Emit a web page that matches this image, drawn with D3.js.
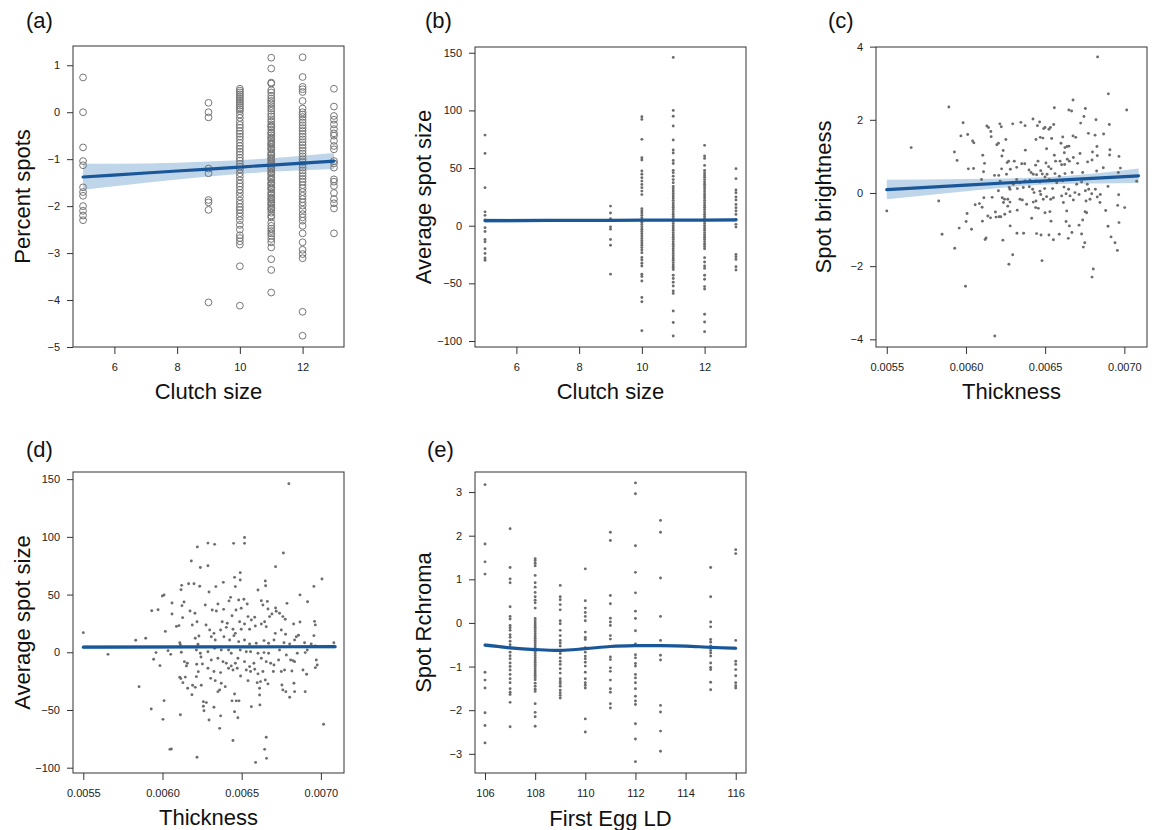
<!DOCTYPE html>
<html><head><meta charset="utf-8">
<script src="https://cdn.jsdelivr.net/npm/d3@7"></script>
<style>
body{margin:0;background:#fff}
text{font-family:"Liberation Sans",Arial,Helvetica,sans-serif}
</style>
</head><body>
<svg id="chart" width="1155" height="830"></svg>
<script>
// ---------------- DATA ----------------
// (a) Percent spots vs Clutch size
const aClutch = [5, 9, 10, 11, 12, 13];
const aSpots = [
  [0.74, 0, -0.75, -1.04, -1.13, -1.6, -1.7, -1.78, -2.0, -2.1, -2.2, -2.3],
  [0.2, 0, -0.11, -1.2, -1.3, -1.87, -1.92, -2.08, -4.05],
  [0.5, 0.46, 0.42, 0.38, 0.34, 0.3, 0.26, 0.22, 0.18, 0.14, 0.1, 0.06, 0.02, -0.05, -0.12, -0.2, -0.27, -0.33, -0.4, -0.46, -0.52, -0.58, -0.65, -0.72, -0.78, -0.84, -0.9, -0.97, -1.03, -1.1, -1.16, -1.22, -1.3, -1.37, -1.45, -1.52, -1.58, -1.65, -1.72, -1.8, -1.88, -1.95, -2.02, -2.08, -2.15, -2.22, -2.3, -2.4, -2.5, -2.62, -2.68, -2.75, -2.82, -3.28, -4.12],
  [1.16, 0.93, 0.63, 0.61, 0.47, 0.42, 0.35, 0.29, 0.24, 0.19, 0.13, 0.08, 0.03, -0.04, -0.09, -0.15, -0.2, -0.26, -0.3, -0.32, -0.37, -0.43, -0.45, -0.49, -0.54, -0.55, -0.6, -0.65, -0.68, -0.7, -0.75, -0.78, -0.8, -0.86, -0.9, -0.92, -0.97, -1.0, -1.02, -1.07, -1.1, -1.13, -1.18, -1.2, -1.23, -1.28, -1.3, -1.34, -1.39, -1.42, -1.44, -1.5, -1.52, -1.55, -1.6, -1.62, -1.65, -1.71, -1.74, -1.77, -1.82, -1.85, -1.87, -1.92, -1.95, -1.98, -2.03, -2.05, -2.08, -2.14, -2.2, -2.24, -2.35, -2.42, -2.48, -2.53, -2.58, -2.63, -2.7, -2.77, -2.88, -3.13, -3.36, -3.84],
  [1.17, 0.75, 0.54, 0.49, 0.43, 0.24, 0.08, 0.0, -0.05, -0.1, -0.16, -0.22, -0.28, -0.34, -0.4, -0.46, -0.52, -0.58, -0.64, -0.7, -0.76, -0.82, -0.88, -0.94, -1.0, -1.06, -1.12, -1.18, -1.24, -1.3, -1.36, -1.42, -1.48, -1.55, -1.62, -1.7, -1.78, -1.85, -1.92, -1.99, -2.08, -2.17, -2.24, -2.31, -2.42, -2.58, -2.77, -2.93, -3.02, -3.11, -4.25, -4.76],
  [0.5, 0.12, -0.08, -0.16, -0.26, -0.36, -0.45, -0.5, -0.61, -0.72, -0.79, -1.04, -1.09, -1.18, -1.43, -1.48, -1.57, -1.72, -1.85, -1.94, -2.05, -2.58]
];
const aFitClutch = [5, 7, 9, 11, 13];
const aFitMean = [-1.38, -1.295, -1.21, -1.125, -1.04];
const aFitLo = [-1.65, -1.5, -1.37, -1.27, -1.21];
const aFitHi = [-1.1, -1.09, -1.05, -0.98, -0.87];

// (b) Average spot size vs Clutch size
const bClutch = [5, 9, 10, 11, 12, 13];
const bSpotSize = [
  [78.6, 62.7, 33, 12, 9, 5, -1.7, -5, -12, -14, -20, -24, -28, -30],
  [17, 11, 6, -1, -3, -12, -17, -42],
  [94.5, 92.2, 74.9, 59, 57, 47.5, 44.6, 41.6, 38.7, 35.8, 33, 30, 27, 14.8, 12.8, 11, 9, 7, 5, 3, 1, -1, -3, -5, -7, -9, -11, -13, -15, -17, -19, -21, -23.5, -27.6, -29.8, -32.6, -35, -42, -44, -48, -62.3, -66, -91],
  [146, 100, 95, 86.5, 74.3, 65.6, 63, 56.5, 54, 48, 46, 43, 40, 37.3, 34, 32, 30, 28, 26, 24, 22, 20, 18, 16, 14, 12, 10, 8, 6, 4, 2, 0, -2, -4, -6, -8, -10, -12, -14, -16, -18, -20, -22, -24, -26, -28, -30, -32, -34, -36, -38, -43, -45.8, -49, -52.3, -56.6, -58.7, -74, -84, -95.7],
  [69.7, 60.4, 58.4, 52.3, 48, 46, 44, 42, 40, 38, 36, 34, 32, 30, 28, 26, 24, 22, 20, 18, 16, 14, 12, 10, 8, 6, 4, 2, 0, -2, -4, -6, -8, -10, -12, -14, -16, -18, -20, -27.7, -31.5, -35, -37, -43, -46.5, -52.8, -55, -76.8, -83.5, -91.9],
  [49.5, 40.8, 31, 28.6, 25, 22.3, 18.5, 15.6, 12.7, 9.8, 5.5, 1.2, -1.2, -24.9, -26.9, -29.2, -35.6, -38.4]
];
const bFitClutch = [5, 9, 11, 13];
const bFitMean = [4.4, 4.7, 4.85, 5.0];
const bFitLo = [2.6, 3.6, 4.0, 3.7];
const bFitHi = [6.2, 5.8, 5.7, 6.3];

// (c) Spot brightness vs Thickness  [thickness, brightness]
const cThickBright = [
  [0.005500,-0.49],[0.005654,1.24],[0.005828,-0.22],[0.005849,-1.13],[0.005892,2.35],[0.005929,-1.51],[0.005927,1.12],[0.005944,0.89],[0.005957,-0.96],[0.005968,1.56],
  [0.005982,1.92],[0.005997,-2.55],[0.006001,-0.78],[0.006007,-0.56],[0.006011,1.6],[0.006015,0.66],[0.006035,-0.99],[0.006042,1.42],[0.006050,1.37],[0.006048,0.67],
  [0.006058,-0.32],[0.006085,-0.29],[0.006098,0.37],[0.006102,-0.39],[0.006104,-0.77],[0.006106,1.03],[0.006117,0.81],[0.006111,0.58],[0.006113,-0.13],[0.006121,-1.27],
  [0.006127,-1.23],[0.006132,1.83],[0.006142,1.79],[0.006138,-0.63],[0.006155,-0.68],[0.006157,1.68],[0.006159,1.54],[0.006165,-0.12],[0.006180,0.48],[0.006182,-3.91],
  [0.006186,-0.52],[0.006190,-0.66],[0.006195,1.32],[0.006205,1.36],[0.006205,0.06],[0.006207,0.48],[0.006209,-0.65],[0.006214,1.89],[0.006220,-0.65],[0.006216,0.32],
  [0.006223,1.81],[0.006225,0.66],[0.006227,1.01],[0.006229,-0.13],[0.006233,-1.29],[0.006235,1.16],[0.006237,-0.26],[0.006243,-0.17],[0.006245,-0.58],[0.006252,1.46],
  [0.006256,0.51],[0.006260,0.83],[0.006269,0.87],[0.006271,-1.95],[0.006273,0.15],[0.006279,-0.9],[0.006280,0.65],[0.006264,-0.17],[0.006264,-0.36],
  [0.006831,3.72],[0.006899,2.71],[0.007015,2.27],[0.006676,2.54],[0.006558,2.33],[0.006650,2.27],[0.006667,2.24],[0.006754,2.31],[0.006745,2.09],[0.006821,2.0],
  [0.006724,1.91],[0.006905,1.87],[0.006295,1.89],[0.006347,1.93],[0.006373,1.84],[0.006423,2.02],[0.006451,1.84],[0.006465,1.94],[0.006491,1.76],[0.006499,1.79],
  [0.006524,1.74],[0.006533,1.79],[0.006554,1.87],[0.006773,1.63],[0.006815,1.58],[0.006869,1.61],[0.006469,1.52],[0.006486,1.5],[0.006541,1.49],[0.006611,1.53],
  [0.006676,1.56],[0.006693,1.52],[0.006442,1.46],[0.006375,1.17],[0.006509,1.21],[0.006600,1.36],[0.006625,1.24],[0.006638,1.27],[0.006650,1.28],[0.006827,1.27],
  [0.006909,1.18],[0.006799,1.12],[0.006720,1.08],[0.006621,1.1],[0.006558,1.03],[0.006829,1.02],[0.006907,1.04],[0.006966,1.0],[0.006768,0.85],[0.006796,0.9],
  [0.006640,0.92],[0.006678,0.97],[0.006653,0.87],[0.006566,0.87],[0.006594,0.87],[0.006352,0.8],[0.006371,0.8],[0.006455,0.87],[0.006440,0.76],[0.006505,0.82],
  [0.006522,0.72],[0.006537,0.66],[0.006604,0.77],[0.006623,0.78],[0.006705,0.81],[0.006867,0.69],[0.006975,0.68],[0.006962,0.56],[0.006305,0.87],[0.006320,0.7],
  [0.006398,0.63],[0.006411,0.56],[0.006425,0.51],[0.006446,0.5],[0.006472,0.61],[0.006482,0.52],[0.006499,0.44],[0.006512,0.51],[0.006562,0.53],[0.006590,0.46],
  [0.006625,0.53],[0.006670,0.56],[0.006737,0.56],[0.006825,0.6],[0.007078,0.32],[0.006320,0.37],[0.006341,0.28],[0.006373,0.33],[0.006404,0.35],[0.006442,0.33],
  [0.006467,0.3],[0.006526,0.37],[0.006573,0.28],[0.006611,0.33],[0.006657,0.36],[0.006699,0.24],[0.006730,0.3],[0.006766,0.24],[0.006299,0.24],[0.006278,0.1],
  [0.006324,0.12],[0.006362,0.15],[0.006400,0.17],[0.006421,0.1],[0.006467,0.05],[0.006497,0.12],[0.006547,0.12],[0.006619,0.16],[0.006648,0.1],[0.006688,0.01],
  [0.006754,0.06],[0.006775,0.1],[0.006817,0.1],[0.006848,-0.04],[0.006278,-0.25],[0.006341,-0.17],[0.006356,-0.19],[0.006430,0.01],[0.006442,-0.22],[0.006472,-0.04],
  [0.006488,-0.17],[0.006509,-0.1],[0.006535,-0.17],[0.006552,-0.13],[0.006604,-0.08],[0.006615,-0.26],[0.006632,-0.02],[0.006657,-0.08],[0.006714,-0.04],[0.006758,-0.22],
  [0.006783,-0.17],[0.006794,-0.02],[0.006425,-0.25],[0.006383,-0.31],[0.006324,-0.47],[0.006278,-0.51],[0.006440,-0.4],[0.006457,-0.42],[0.006499,-0.54],[0.006530,-0.51],
  [0.006636,-0.49],[0.006678,-0.19],[0.006752,-0.51],[0.006762,-0.54],[0.006829,-0.11],[0.006846,-0.26],[0.006882,-0.48],[0.006897,0.18],[0.006958,-0.34],[0.006964,-0.05],
  [0.007002,-0.4],[0.006415,-0.69],[0.006537,-0.77],[0.006632,-0.78],[0.006653,-0.9],[0.006737,-0.74],[0.006714,-0.88],[0.006669,-1.08],[0.006646,-1.24],[0.006589,-1.13],
  [0.006552,-1.28],[0.006524,-1.15],[0.006474,-1.15],[0.006446,-1.11],[0.006364,-1.1],[0.006322,-1.1],[0.006730,-1.12],[0.006750,-1.36],[0.006741,-1.48],[0.006897,-0.91],
  [0.006916,-1.2],[0.006941,-1.36],[0.006956,-1.57],[0.006966,-0.81],[0.006295,-1.69],[0.006480,-1.85],[0.006804,-2.08],[0.006796,-2.3]
];
const cFitThick = [0.0055, 0.0060, 0.0065, 0.00709];
const cFitMean = [0.09, 0.216, 0.333, 0.47];
const cFitLo = [-0.17, 0.05, 0.23, 0.27];
const cFitHi = [0.36, 0.38, 0.43, 0.67];

// (d) Average spot size vs Thickness  [thickness, spot size]
const dThickSize = [
  [0.005500,17],[0.005656,-1.8],[0.005831,10.4],[0.005894,12.1],[0.005852,-29.8],[0.005932,36],[0.005972,36.9],[0.005929,-49.2],[0.005944,-6.1],[0.005959,-0.3],
  [0.005984,-11.6],[0.005999,48.8],[0.006010,49.6],[0.006003,-58.1],[0.006010,-41.9],[0.006018,18.1],[0.006035,1.4],[0.006047,-84.1],[0.006056,-83.8],[0.006052,-1.8],
  [0.006060,42.7],[0.006060,33.2],[0.006088,22.4],[0.006104,23.1],[0.006113,-54.1],[0.006117,54.2],[0.006121,58],[0.006109,8.3],[0.006113,6.6],[0.006119,0],
  [0.006127,30],[0.006123,40.4],[0.006136,43.6],[0.006138,-8.1],[0.006151,-11.8],[0.006144,-21.5],[0.006109,-21.7],[0.006116,-22.8],[0.006157,-9.5],[0.006129,-26.3],
  [0.006159,-31.2],[0.006165,59.4],[0.006174,35.8],[0.006182,79.1],[0.006188,23.6],[0.006190,-28.6],[0.006186,-36.8],[0.006199,59.4],[0.006205,33.8],[0.006207,12.1],
  [0.006207,-30.4],[0.006214,2],[0.006216,-10.4],[0.006214,-21.1],[0.006218,26.5],[0.006220,91.3],[0.006224,6.9],[0.006226,-16.8],[0.006230,14.1],[0.006235,57.2],
  [0.006239,73.4],[0.006239,-0.9],[0.006243,-4.1],[0.006252,-10.1],[0.006245,-28.6],[0.006218,-91],[0.006258,-42.8],[0.006258,-46.8],[0.006262,-50.6],[0.006277,-43.6],
  [0.006287,94.6],[0.006287,75],[0.006294,52.2],[0.006294,-58.7],[0.006270,41],[0.006275,23.6],
  [0.006798,146.1],[0.006329,93.5],[0.006449,94.4],[0.006518,99.4],[0.006518,94.4],[0.006763,86],[0.006714,74.2],[0.007007,63.5],[0.006491,69],[0.006455,64.9],
  [0.006491,62.6],[0.006649,61.8],[0.006651,57.7],[0.006956,57.1],[0.006603,54],[0.006384,60.6],[0.006337,56.9],[0.006460,56.9],[0.006868,49.7],[0.006624,44.7],
  [0.006430,47.6],[0.006420,44.5],[0.006481,45.3],[0.006514,45.9],[0.006535,41.8],[0.006662,44.1],[0.006714,38.3],[0.006786,42.4],[0.006916,43.8],[0.006350,41.8],
  [0.006314,36.6],[0.006340,35.7],[0.006386,37.2],[0.006439,31.7],[0.006464,36.6],[0.006497,38.1],[0.006540,30.9],[0.006582,30.3],[0.006634,41],[0.006666,37.5],
  [0.006676,30.9],[0.006691,33.2],[0.006718,35.5],[0.006739,33.8],[0.006760,30.9],[0.006775,28.6],[0.006377,26.5],[0.006409,25.1],[0.006487,26.5],[0.006518,24.5],
  [0.006561,28],[0.006624,24.5],[0.006645,26.5],[0.006828,24.5],[0.006868,26.2],[0.006960,26.8],[0.006965,23.7],[0.006298,19.3],[0.006325,16.4],[0.006367,19.3],
  [0.006403,21.6],[0.006445,19.9],[0.006460,16.4],[0.006497,19.9],[0.006550,19.9],[0.006586,22.8],[0.006655,22.2],[0.006712,16.4],[0.006750,19.3],[0.006777,15.6],
  [0.006845,13.5],[0.006859,14.7],[0.006956,14.4],[0.006308,13.5],[0.006333,10.6],[0.006388,13.5],[0.006424,10.6],[0.006451,14.4],[0.006481,9.2],[0.006518,10.6],
  [0.006550,7.2],[0.006592,7.8],[0.006641,10.1],[0.006670,7.8],[0.006704,10.6],[0.006767,8.3],[0.006803,7.2],[0.006834,10.6],[0.006897,8.3],[0.006939,7.2],
  [0.007082,8.3],[0.006287,0.5],[0.006329,3.4],[0.006371,2],[0.006417,2],[0.006434,-0.9],[0.006491,2],[0.006529,0.5],[0.006556,0.5],[0.006603,-0.9],
  [0.006641,-0.3],[0.006670,-0.9],[0.006739,2],[0.006782,-2.3],[0.006809,-6.7],[0.006851,-0.9],[0.006901,-0.3],[0.006914,2],[0.006965,5.4],[0.006308,-6.7],
  [0.006350,-5.2],[0.006382,-8.1],[0.006403,-9.5],[0.006434,-11.8],[0.006460,-9.5],[0.006476,-5.2],[0.006518,-8.1],[0.006550,-12.4],[0.006577,-9.5],[0.006624,-5.2],
  [0.006655,-8.1],[0.006683,-9.5],[0.006704,-11],[0.006733,-6.7],[0.006824,-7.2],[0.006834,-8.1],[0.006971,-6.7],[0.006977,-11],[0.006965,-13.3],[0.006287,-13.9],
  [0.006325,-16.7],[0.006367,-17.6],[0.006417,-13.9],[0.006445,-15.3],[0.006472,-13.9],[0.006493,-20.5],[0.006529,-15.3],[0.006556,-16.7],[0.006582,-14.7],[0.006603,-18.7],
  [0.006634,-16.7],[0.006700,-16.7],[0.006750,-16.7],[0.006771,-15.3],[0.006817,-16.2],[0.006887,-15.3],[0.006910,-19.1],[0.006304,-22.6],[0.006333,-24.6],[0.006371,-26.9],
  [0.006396,-29.8],[0.006361,-32.6],[0.006350,-34.1],[0.006540,-24.6],[0.006598,-26.3],[0.006619,-25.4],[0.006649,-24],[0.006666,-27.4],[0.006613,-31.2],[0.006613,-37],
  [0.006754,-28.3],[0.006760,-32.6],[0.006779,-34.1],[0.006803,-39],[0.006830,-26.9],[0.006834,-34.1],[0.006901,-34.1],[0.006455,-36.1],[0.006439,-42.1],[0.006466,-42.1],
  [0.006483,-42.1],[0.006325,-47.6],[0.006367,-55.1],[0.006455,-51.5],[0.006476,-56.7],[0.006561,-47.1],[0.006615,-45.6],[0.006361,-65.9],[0.006445,-76.5],[0.006655,-73.6],
  [0.006645,-84.1],[0.006657,-91.9],[0.006588,-95.4],[0.007017,-62.4]
];
const dFitThick = [0.0055, 0.0062, 0.0065, 0.00709];
const dFitMean = [4.4, 4.6, 4.7, 4.9];
const dFitLo = [2.6, 3.5, 3.7, 3.3];
const dFitHi = [6.2, 5.7, 5.7, 6.5];

// (e) Spot Rchroma vs First Egg LD
const eDay = [106, 107, 108, 109, 110, 111, 112, 113, 115, 116];
const eChroma = [
  [3.17, 1.81, 1.4, 1.12, -1.13, -1.31, -1.49, -2.06, -2.35, -2.75],
  [2.16, 1.27, 1.01, 0.92, 0.37, 0.15, 0.09, -0.06, -0.11, -0.17, -0.27, -0.33, -0.42, -0.5, -0.57, -0.67, -0.75, -0.82, -0.92, -1.0, -1.08, -1.18, -1.28, -1.37, -1.51, -1.59, -1.64, -1.82, -2.38],
  [1.47, 1.43, 1.37, 1.31, 1.09, 0.92, 0.82, 0.7, 0.6, 0.52, 0.46, 0.34, 0.1, 0.05, 0.0, -0.05, -0.1, -0.15, -0.2, -0.25, -0.3, -0.35, -0.4, -0.45, -0.5, -0.55, -0.6, -0.65, -0.7, -0.75, -0.8, -0.85, -0.9, -0.95, -1.0, -1.05, -1.1, -1.15, -1.2, -1.25, -1.3, -1.38, -1.45, -1.52, -1.57, -1.85, -2.05, -2.15, -2.37],
  [0.86, 0.6, 0.53, 0.42, 0.3, 0.05, -0.02, -0.17, -0.29, -0.4, -0.46, -0.53, -0.63, -0.7, -0.8, -0.88, -0.95, -1.05, -1.15, -1.28, -1.34, -1.39, -1.45, -1.54, -1.6, -1.66, -1.72],
  [1.24, 0.51, 0.34, 0.24, 0.15, 0.05, -0.21, -0.33, -0.38, -0.57, -0.67, -0.76, -0.82, -0.9, -0.99, -1.13, -1.28, -1.37, -1.43, -1.49, -2.2, -2.5],
  [2.08, 1.89, 0.63, 0.44, 0.11, 0.02, -0.06, -0.29, -0.37, -0.78, -0.84, -1.03, -1.11, -1.31, -1.51, -1.59, -1.85, -1.95],
  [3.21, 2.96, 1.77, 1.16, 0.69, 0.27, 0.1, -0.18, -0.48, -0.73, -0.8, -0.93, -0.99, -1.18, -1.26, -1.37, -1.51, -1.68, -1.79, -1.87, -2.31, -2.66, -3.18],
  [2.35, 2.08, 1.03, 0.15, -0.4, -0.74, -0.85, -1.89, -2.04, -2.48, -2.94],
  [1.27, 0.6, 0.02, -0.09, -0.38, -0.44, -0.53, -0.63, -0.69, -0.76, -0.92, -1.02, -1.07, -1.36, -1.53],
  [1.68, 1.59, -0.4, -0.88, -0.95, -1.07, -1.21, -1.37, -1.44, -1.49]
];
const eFitDay = [106, 107, 108, 109, 110, 111, 112, 113, 114, 115, 116];
const eFitMean = [-0.51, -0.57, -0.61, -0.63, -0.59, -0.54, -0.52, -0.52, -0.53, -0.56, -0.58];
const eFitLo = [-0.56, -0.6, -0.635, -0.655, -0.615, -0.565, -0.545, -0.545, -0.56, -0.59, -0.625];
const eFitHi = [-0.46, -0.54, -0.585, -0.605, -0.565, -0.515, -0.495, -0.495, -0.5, -0.53, -0.535];

// tick values
const clutchTicks = [6, 8, 10, 12];
const thickTicks = [0.0055, 0.0060, 0.0065, 0.0070];
const dayTicks = [106, 108, 110, 112, 114, 116];
const aYTicks = [-5, -4, -3, -2, -1, 0, 1];
const sizeTicks = [-100, -50, 0, 50, 100, 150];
const cYTicks = [-4, -2, 0, 2, 4];
const eYTicks = [-3, -2, -1, 0, 1, 2, 3];

// ---------------- DRAWING ----------------
const svg = d3.select("#chart");
const LINE = "#1a5799";
const BAND = "rgb(126,172,214)";
const PT = "#6c6c6c";
const AX = "#333";
const minusFmt = f => (v => f(v).replace("-", "\u2212"));

function expandColumns(xs, ys) {
  const out = [];
  xs.forEach((xv, i) => ys[i].forEach(yv => out.push([xv, yv])));
  return out;
}
function fitRows(xs, m, lo, hi) {
  return xs.map((xv, i) => ({x: xv, m: m[i], lo: lo[i], hi: hi[i]}));
}

function drawPanel(o) {
  const x = d3.scaleLinear().domain(o.xDomain).range([o.left, o.right]);
  const y = d3.scaleLinear().domain(o.yDomain).range([o.bottom, o.top]);
  const g = svg.append("g");

  const area = d3.area().x(d => x(d.x)).y0(d => y(d.lo)).y1(d => y(d.hi)).curve(o.curve);
  g.append("path").datum(o.fit).attr("d", area).attr("fill", BAND).attr("fill-opacity", 0.5);

  const pts = g.append("g").selectAll("circle").data(o.points).join("circle")
    .attr("cx", d => x(d[0])).attr("cy", d => y(d[1]));
  if (o.open) {
    pts.attr("r", 3.4).attr("fill", "none").attr("stroke", "#767676").attr("stroke-width", 1);
  } else {
    pts.attr("r", 1.45).attr("fill", PT);
  }

  const line = d3.line().x(d => x(d.x)).y(d => y(d.m)).curve(o.curve);
  g.append("path").datum(o.fit).attr("d", line).attr("fill", "none")
    .attr("stroke", LINE).attr("stroke-width", 3.2).attr("stroke-linecap", "round");

  g.append("rect").attr("x", o.left).attr("y", o.top)
    .attr("width", o.right - o.left).attr("height", o.bottom - o.top)
    .attr("fill", "none").attr("stroke", AX).attr("stroke-width", 1);

  const xa = d3.axisBottom(x).tickValues(o.xTicks).tickSize(7).tickPadding(9).tickFormat(o.xFmt);
  const ya = d3.axisLeft(y).tickValues(o.yTicks).tickSize(6).tickPadding(7).tickFormat(minusFmt(d3.format("d")));
  const gx = g.append("g").attr("transform", `translate(0,${o.bottom})`).call(xa);
  const gy = g.append("g").attr("transform", `translate(${o.left},0)`).call(ya);
  [gx, gy].forEach(s => {
    s.select(".domain").remove();
    s.attr("font-family", null).attr("font-size", null);
    s.selectAll("line").attr("stroke", AX);
    s.selectAll("text").attr("fill", "#222").style("font-size", "11px");
  });

  g.append("text").attr("x", (o.left + o.right) / 2).attr("y", o.xTitleY)
    .attr("text-anchor", "middle").style("font-size", "22px").attr("fill", "#111").text(o.xTitle);
  g.append("text").attr("transform", `translate(${o.yTitleX},${(o.top + o.bottom) / 2}) rotate(-90)`)
    .attr("text-anchor", "middle").style("font-size", "22px").attr("fill", "#111").text(o.yTitle);
  g.append("text").attr("x", o.labelX).attr("y", o.labelY)
    .style("font-size", "22px").attr("fill", "#111").text(o.label);
}

drawPanel({
  left: 73, right: 344, top: 46, bottom: 347,
  xDomain: [4.68, 13.32], yDomain: [-5.0, 1.41],
  xTicks: clutchTicks, xFmt: d3.format("d"), yTicks: aYTicks,
  points: expandColumns(aClutch, aSpots), open: true,
  fit: fitRows(aFitClutch, aFitMean, aFitLo, aFitHi), curve: d3.curveMonotoneX,
  xTitle: "Clutch size", xTitleY: 399, yTitle: "Percent spots", yTitleX: 30,
  label: "(a)", labelX: 26, labelY: 28
});
drawPanel({
  left: 475, right: 746, top: 47, bottom: 347,
  xDomain: [4.68, 13.32], yDomain: [-105.2, 155],
  xTicks: clutchTicks, xFmt: d3.format("d"), yTicks: sizeTicks,
  points: expandColumns(bClutch, bSpotSize), open: false,
  fit: fitRows(bFitClutch, bFitMean, bFitLo, bFitHi), curve: d3.curveMonotoneX,
  xTitle: "Clutch size", xTitleY: 399, yTitle: "Average spot size", yTitleX: 431,
  label: "(b)", labelX: 425, labelY: 28
});
drawPanel({
  left: 876, right: 1147, top: 47, bottom: 347,
  xDomain: [0.005432, 0.007143], yDomain: [-4.21, 3.99],
  xTicks: thickTicks, xFmt: d3.format(".4f"), yTicks: cYTicks,
  points: cThickBright, open: false,
  fit: fitRows(cFitThick, cFitMean, cFitLo, cFitHi), curve: d3.curveMonotoneX,
  xTitle: "Thickness", xTitleY: 399, yTitle: "Spot brightness", yTitleX: 831,
  label: "(c)", labelX: 828, labelY: 28
});
drawPanel({
  left: 73, right: 344, top: 472, bottom: 773,
  xDomain: [0.005435, 0.007146], yDomain: [-104.6, 156.2],
  xTicks: thickTicks, xFmt: d3.format(".4f"), yTicks: sizeTicks,
  points: dThickSize, open: false,
  fit: fitRows(dFitThick, dFitMean, dFitLo, dFitHi), curve: d3.curveMonotoneX,
  xTitle: "Thickness", xTitleY: 825, yTitle: "Average spot size", yTitleX: 30,
  label: "(d)", labelX: 26, labelY: 457
});
drawPanel({
  left: 475, right: 746, top: 472, bottom: 773,
  xDomain: [105.6, 116.41], yDomain: [-3.44, 3.46],
  xTicks: dayTicks, xFmt: d3.format("d"), yTicks: eYTicks,
  points: expandColumns(eDay, eChroma), open: false,
  fit: fitRows(eFitDay, eFitMean, eFitLo, eFitHi), curve: d3.curveCatmullRom,
  xTitle: "First Egg LD", xTitleY: 826, yTitle: "Spot Rchroma", yTitleX: 431,
  label: "(e)", labelX: 427, labelY: 457
});
</script>
</body></html>
